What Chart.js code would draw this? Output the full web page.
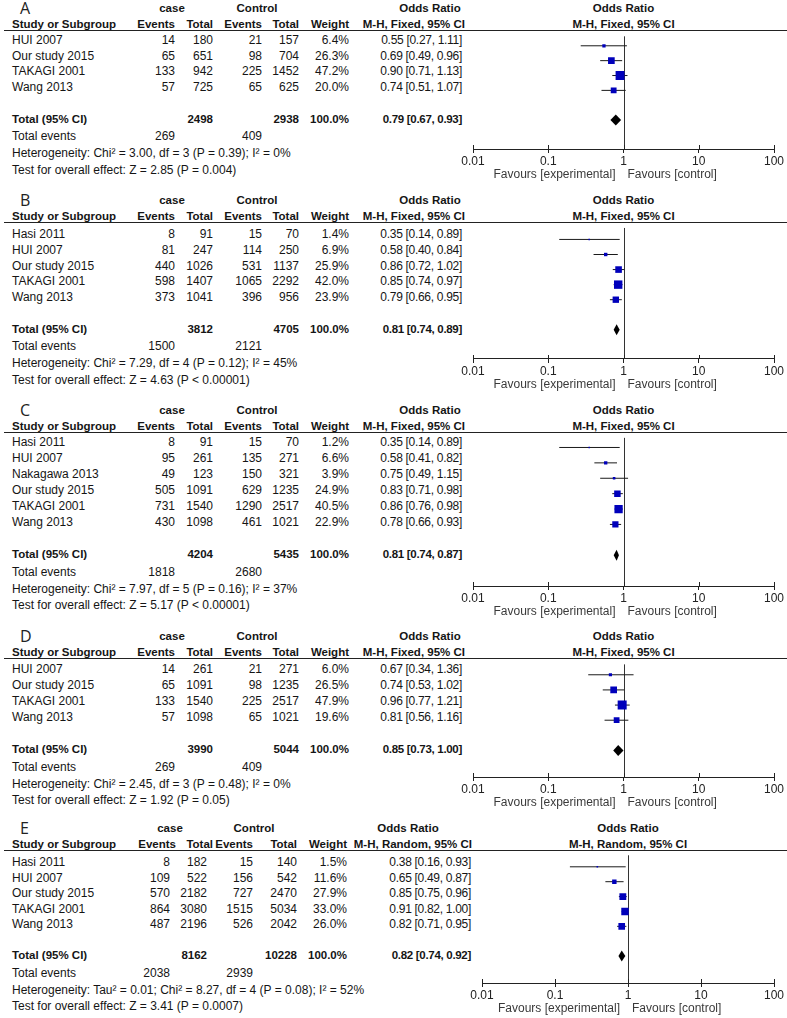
<!DOCTYPE html>
<html><head><meta charset="utf-8">
<script src="https://cdn.jsdelivr.net/npm/chart.js@4.4.0/dist/chart.umd.min.js"></script>
<style>
html,body{margin:0;padding:0;background:#fff;}
#root{position:relative;width:787px;height:1018px;overflow:hidden;font-family:"Liberation Sans",Arial,sans-serif;font-size:12px;color:#151515;}
.t{position:absolute;height:14px;line-height:14px;white-space:nowrap;}
.b{font-weight:bold;font-size:11.5px;}
.ci{letter-spacing:-0.3px;}
.lt{position:absolute;font-family:"Open Sans",sans-serif;font-size:16px;line-height:20px;height:20px;color:#222;}
.hl{position:absolute;height:0;border-top:1px solid #222;}
canvas{position:absolute;}
</style></head><body><div id="root"></div>
<script>
// ---------- DATA ----------
const panelLetters = ['A', 'B', 'C', 'D', 'E'];
const methodLabels = ['M-H, Fixed, 95% CI', 'M-H, Fixed, 95% CI', 'M-H, Fixed, 95% CI', 'M-H, Fixed, 95% CI', 'M-H, Random, 95% CI'];
const tickValues = [0.01, 0.1, 1, 10, 100];
const tickLabels = ['0.01', '0.1', '1', '10', '100'];
const favoursLeft = 'Favours [experimental]';
const favoursRight = 'Favours [control]';

// Panel A
const studiesA = ['HUI 2007', 'Our study 2015', 'TAKAGI 2001', 'Wang 2013'];
const caseEventsA = [14, 65, 133, 57];
const caseTotalA = [180, 651, 942, 725];
const ctrlEventsA = [21, 98, 225, 65];
const ctrlTotalA = [157, 704, 1452, 625];
const weightA = [6.4, 26.3, 47.2, 20.0];
const orA = [0.55, 0.69, 0.90, 0.74];
const lowerA = [0.27, 0.49, 0.71, 0.51];
const upperA = [1.11, 0.96, 1.13, 1.07];
const sumTotalsA = [2498, 2938];
const sumEventsA = [269, 409];
const pooledA = [0.79, 0.67, 0.93];
const hetA = 'Heterogeneity: Chi² = 3.00, df = 3 (P = 0.39); I² = 0%';
const testA = 'Test for overall effect: Z = 2.85 (P = 0.004)';

// Panel B
const studiesB = ['Hasi 2011', 'HUI 2007', 'Our study 2015', 'TAKAGI 2001', 'Wang 2013'];
const caseEventsB = [8, 81, 440, 598, 373];
const caseTotalB = [91, 247, 1026, 1407, 1041];
const ctrlEventsB = [15, 114, 531, 1065, 396];
const ctrlTotalB = [70, 250, 1137, 2292, 956];
const weightB = [1.4, 6.9, 25.9, 42.0, 23.9];
const orB = [0.35, 0.58, 0.86, 0.85, 0.79];
const lowerB = [0.14, 0.40, 0.72, 0.74, 0.66];
const upperB = [0.89, 0.84, 1.02, 0.97, 0.95];
const sumTotalsB = [3812, 4705];
const sumEventsB = [1500, 2121];
const pooledB = [0.81, 0.74, 0.89];
const hetB = 'Heterogeneity: Chi² = 7.29, df = 4 (P = 0.12); I² = 45%';
const testB = 'Test for overall effect: Z = 4.63 (P < 0.00001)';

// Panel C
const studiesC = ['Hasi 2011', 'HUI 2007', 'Nakagawa 2013', 'Our study 2015', 'TAKAGI 2001', 'Wang 2013'];
const caseEventsC = [8, 95, 49, 505, 731, 430];
const caseTotalC = [91, 261, 123, 1091, 1540, 1098];
const ctrlEventsC = [15, 135, 150, 629, 1290, 461];
const ctrlTotalC = [70, 271, 321, 1235, 2517, 1021];
const weightC = [1.2, 6.6, 3.9, 24.9, 40.5, 22.9];
const orC = [0.35, 0.58, 0.75, 0.83, 0.86, 0.78];
const lowerC = [0.14, 0.41, 0.49, 0.71, 0.76, 0.66];
const upperC = [0.89, 0.82, 1.15, 0.98, 0.98, 0.93];
const sumTotalsC = [4204, 5435];
const sumEventsC = [1818, 2680];
const pooledC = [0.81, 0.74, 0.87];
const hetC = 'Heterogeneity: Chi² = 7.97, df = 5 (P = 0.16); I² = 37%';
const testC = 'Test for overall effect: Z = 5.17 (P < 0.00001)';

// Panel D
const studiesD = ['HUI 2007', 'Our study 2015', 'TAKAGI 2001', 'Wang 2013'];
const caseEventsD = [14, 65, 133, 57];
const caseTotalD = [261, 1091, 1540, 1098];
const ctrlEventsD = [21, 98, 225, 65];
const ctrlTotalD = [271, 1235, 2517, 1021];
const weightD = [6.0, 26.5, 47.9, 19.6];
const orD = [0.67, 0.74, 0.96, 0.81];
const lowerD = [0.34, 0.53, 0.77, 0.56];
const upperD = [1.36, 1.02, 1.21, 1.16];
const sumTotalsD = [3990, 5044];
const sumEventsD = [269, 409];
const pooledD = [0.85, 0.73, 1.00];
const hetD = 'Heterogeneity: Chi² = 2.45, df = 3 (P = 0.48); I² = 0%';
const testD = 'Test for overall effect: Z = 1.92 (P = 0.05)';

// Panel E
const studiesE = ['Hasi 2011', 'HUI 2007', 'Our study 2015', 'TAKAGI 2001', 'Wang 2013'];
const caseEventsE = [8, 109, 570, 864, 487];
const caseTotalE = [182, 522, 2182, 3080, 2196];
const ctrlEventsE = [15, 156, 727, 1515, 526];
const ctrlTotalE = [140, 542, 2470, 5034, 2042];
const weightE = [1.5, 11.6, 27.9, 33.0, 26.0];
const orE = [0.38, 0.65, 0.85, 0.91, 0.82];
const lowerE = [0.16, 0.49, 0.75, 0.82, 0.71];
const upperE = [0.93, 0.87, 0.96, 1.00, 0.95];
const sumTotalsE = [8162, 10228];
const sumEventsE = [2038, 2939];
const pooledE = [0.82, 0.74, 0.92];
const hetE = 'Heterogeneity: Tau² = 0.01; Chi² = 8.27, df = 4 (P = 0.08); I² = 52%';
const testE = 'Test for overall effect: Z = 3.41 (P = 0.0007)';

// ---------- LAYOUT (positions only) ----------
const colsAD = {val: [175, 213, 262, 299, 349, 462], hdr: [175, 213, 262, 299, 349, 465], caseC: 172, ctrlC: 257, orC: 430, plotL: 473, plotR: 774};
const colsE = {val: [170, 207, 253, 297, 347, 471], hdr: [176, 213, 253, 297, 347, 472], caseC: 170, ctrlC: 254, orC: 408, plotL: 482, plotR: 774};
const layouts = [
  {line: 30, row0: 40, pitch: 15.7, axis: 149, c: colsAD},
  {line: 222, row0: 234, pitch: 15.75, axis: 359, c: colsAD},
  {line: 432, row0: 442, pitch: 16, axis: 586, c: colsAD},
  {line: 658, row0: 669, pitch: 16, axis: 777, c: colsAD},
  {line: 850, row0: 862, pitch: 15.5, axis: 983, c: colsE}
];

const panels = [
  {studies: studiesA, ce: caseEventsA, ct: caseTotalA, ke: ctrlEventsA, kt: ctrlTotalA, w: weightA, or: orA, lo: lowerA, hi: upperA, tot: sumTotalsA, ev: sumEventsA, pooled: pooledA, het: hetA, test: testA},
  {studies: studiesB, ce: caseEventsB, ct: caseTotalB, ke: ctrlEventsB, kt: ctrlTotalB, w: weightB, or: orB, lo: lowerB, hi: upperB, tot: sumTotalsB, ev: sumEventsB, pooled: pooledB, het: hetB, test: testB},
  {studies: studiesC, ce: caseEventsC, ct: caseTotalC, ke: ctrlEventsC, kt: ctrlTotalC, w: weightC, or: orC, lo: lowerC, hi: upperC, tot: sumTotalsC, ev: sumEventsC, pooled: pooledC, het: hetC, test: testC},
  {studies: studiesD, ce: caseEventsD, ct: caseTotalD, ke: ctrlEventsD, kt: ctrlTotalD, w: weightD, or: orD, lo: lowerD, hi: upperD, tot: sumTotalsD, ev: sumEventsD, pooled: pooledD, het: hetD, test: testD},
  {studies: studiesE, ce: caseEventsE, ct: caseTotalE, ke: ctrlEventsE, kt: ctrlTotalE, w: weightE, or: orE, lo: lowerE, hi: upperE, tot: sumTotalsE, ev: sumEventsE, pooled: pooledE, het: hetE, test: testE}
];

const root = document.getElementById('root');
const FONT = '"Liberation Sans", Arial, sans-serif';

function txt(s, x, y, align, cls) {
  const d = document.createElement('div');
  d.className = 't' + (cls ? ' ' + cls : '');
  d.textContent = s;
  if (align === 'left') { d.style.left = x + 'px'; }
  else if (align === 'right') { d.style.left = (x - 300) + 'px'; d.style.width = '300px'; d.style.textAlign = 'right'; }
  else { d.style.left = (x - 150) + 'px'; d.style.width = '300px'; d.style.textAlign = 'center'; }
  d.style.top = (y - 7) + 'px';
  root.appendChild(d);
}
const fmtCI = (o, l, h) => o.toFixed(2) + ' [' + l.toFixed(2) + ', ' + h.toFixed(2) + ']';

const forestPlugin = {
  id: 'forest',
  beforeDatasetsDraw(chart) {
    const {ctx, chartArea, scales} = chart;
    const x1 = Math.round(scales.x.getPixelForValue(1)) + 0.5;
    ctx.save();
    ctx.strokeStyle = '#333';
    ctx.lineWidth = 1;
    ctx.beginPath();
    ctx.moveTo(x1, chartArea.top);
    ctx.lineTo(x1, chartArea.bottom);
    ctx.stroke();
    ctx.restore();
  },
  afterDatasetsDraw(chart) {
    const {ctx, scales} = chart;
    const p = chart.options.plugins.forest;
    const y = scales.y.getPixelForValue(p.totalRow);
    const xl = scales.x.getPixelForValue(p.pooled[1]);
    const xm = scales.x.getPixelForValue(p.pooled[0]);
    const xr = scales.x.getPixelForValue(p.pooled[2]);
    ctx.save();
    ctx.fillStyle = '#000';
    ctx.beginPath();
    ctx.moveTo(xl, y);
    ctx.lineTo(xm, y - 5.5);
    ctx.lineTo(xr, y);
    ctx.lineTo(xm, y + 5.5);
    ctx.closePath();
    ctx.fill();
    ctx.restore();
  },
  afterDraw(chart) {
    const {ctx, chartArea, scales} = chart;
    ctx.save();
    ctx.strokeStyle = '#222';
    ctx.lineWidth = 1;
    tickValues.forEach(v => {
      const x = Math.round(scales.x.getPixelForValue(v)) + 0.5;
      ctx.beginPath();
      ctx.moveTo(x, chartArea.bottom - 4);
      ctx.lineTo(x, chartArea.bottom);
      ctx.stroke();
    });
    const x1 = scales.x.getPixelForValue(1);
    ctx.fillStyle = '#3a3a3a';
    ctx.font = '12px ' + FONT;
    ctx.textBaseline = 'middle';
    ctx.textAlign = 'right';
    ctx.fillText(favoursLeft, x1 - 8, chartArea.bottom + 26);
    ctx.textAlign = 'left';
    ctx.fillText(favoursRight, x1 + 4, chartArea.bottom + 26);
    ctx.restore();
  }
};

panels.forEach((P, k) => {
  const L = layouts[k];
  const c = L.c;
  const n = P.studies.length;
  const rowY = i => L.row0 + i * L.pitch;
  const totalRow = n + 1;
  const totY = rowY(totalRow);

  // letter
  const lt = document.createElement('div');
  lt.className = 'lt';
  lt.textContent = panelLetters[k];
  lt.style.left = '20px';
  lt.style.top = (L.line - 22 - 10) + 'px';
  root.appendChild(lt);

  // header row 1
  const h1 = L.line - 22, h2 = L.line - 6.5;
  txt('case', c.caseC, h1, 'center', 'b');
  txt('Control', c.ctrlC, h1, 'center', 'b');
  txt('Odds Ratio', c.orC, h1, 'center', 'b');
  const plotC = (c.plotL + c.plotR) / 2;
  txt('Odds Ratio', plotC, h1, 'center', 'b');
  // header row 2
  txt('Study or Subgroup', 12, h2, 'left', 'b');
  txt('Events', c.hdr[0], h2, 'right', 'b');
  txt('Total', c.hdr[1], h2, 'right', 'b');
  txt('Events', c.hdr[2], h2, 'right', 'b');
  txt('Total', c.hdr[3], h2, 'right', 'b');
  txt('Weight', c.hdr[4], h2, 'right', 'b');
  txt(methodLabels[k], c.hdr[5], h2, 'right', 'b');
  txt(methodLabels[k], plotC, h2, 'center', 'b');
  // header rule
  const hl = document.createElement('div');
  hl.className = 'hl';
  hl.style.left = '4px';
  hl.style.width = '783px';
  hl.style.top = L.line + 'px';
  root.appendChild(hl);

  // study rows
  P.studies.forEach((s, i) => {
    const y = rowY(i);
    txt(s, 12, y, 'left');
    txt(String(P.ce[i]), c.val[0], y, 'right');
    txt(String(P.ct[i]), c.val[1], y, 'right');
    txt(String(P.ke[i]), c.val[2], y, 'right');
    txt(String(P.kt[i]), c.val[3], y, 'right');
    txt(P.w[i].toFixed(1) + '%', c.val[4], y, 'right');
    txt(fmtCI(P.or[i], P.lo[i], P.hi[i]), c.val[5], y, 'right', 'ci');
  });
  // total row
  txt('Total (95% CI)', 12, totY, 'left', 'b');
  txt(String(P.tot[0]), c.val[1], totY, 'right', 'b');
  txt(String(P.tot[1]), c.val[3], totY, 'right', 'b');
  txt('100.0%', c.val[4], totY, 'right', 'b');
  txt(fmtCI(P.pooled[0], P.pooled[1], P.pooled[2]), c.val[5], totY, 'right', 'b ci');
  txt('Total events', 12, totY + 17.5, 'left');
  txt(String(P.ev[0]), c.val[0], totY + 17.5, 'right');
  txt(String(P.ev[1]), c.val[2], totY + 17.5, 'right');
  txt(P.het, 12, totY + 34.5, 'left');
  txt(P.test, 12, totY + 51, 'left');

  // chart canvas
  const AXH = 36;
  const cv = document.createElement('canvas');
  const cvLeft = 440, cvW = 347;
  const cvH = (L.axis - L.line) + AXH;
  cv.width = cvW; cv.height = cvH;
  cv.style.left = cvLeft + 'px';
  cv.style.top = L.line + 'px';
  cv.style.width = cvW + 'px'; cv.style.height = cvH + 'px';
  root.appendChild(cv);

  const yMin = -(L.row0 - L.line) / L.pitch;
  const yMax = (L.axis - L.row0) / L.pitch;

  const ciSets = P.studies.map((s, i) => ({
    type: 'line',
    label: s + ' CI',
    data: [{x: P.lo[i], y: i}, {x: P.hi[i], y: i}],
    borderColor: '#1a1a1a',
    borderWidth: 1,
    pointRadius: 0,
    fill: false,
    order: 2
  }));
  const squares = {
    type: 'scatter',
    label: 'Studies',
    data: P.studies.map((s, i) => ({x: P.or[i], y: i})),
    pointStyle: 'rect',
    pointRadius: P.w.map(w => 1.3 * Math.sqrt(w) / Math.SQRT2),
    backgroundColor: '#0000bb',
    borderColor: '#0000bb',
    borderWidth: 0,
    order: 0
  };

  new Chart(cv, {
    type: 'scatter',
    data: {datasets: [squares].concat(ciSets)},
    options: {
      responsive: false,
      animation: false,
      devicePixelRatio: 1,
      events: [],
      layout: {padding: {left: c.plotL - cvLeft, right: (cvLeft + cvW) - c.plotR, top: 0, bottom: 0}},
      plugins: {
        legend: {display: false},
        tooltip: {enabled: false},
        forest: {pooled: P.pooled, totalRow: totalRow}
      },
      scales: {
        x: {
          type: 'logarithmic',
          min: 0.01,
          max: 100,
          position: 'bottom',
          afterBuildTicks: s => { s.ticks = tickValues.map(v => ({value: v})); },
          afterFit: s => { s.height = AXH; },
          ticks: {
            callback: (v, i) => tickLabels[i],
            font: {family: FONT, size: 12},
            color: '#222',
            padding: 1,
            maxRotation: 0,
            autoSkip: false
          },
          grid: {display: true, drawOnChartArea: false, drawTicks: true, tickLength: 4, color: '#222', lineWidth: 1},
          border: {display: true, color: '#222', width: 1}
        },
        y: {type: 'linear', reverse: true, min: yMin, max: yMax, display: false}
      }
    },
    plugins: [forestPlugin]
  });
});
</script>
</body></html>
